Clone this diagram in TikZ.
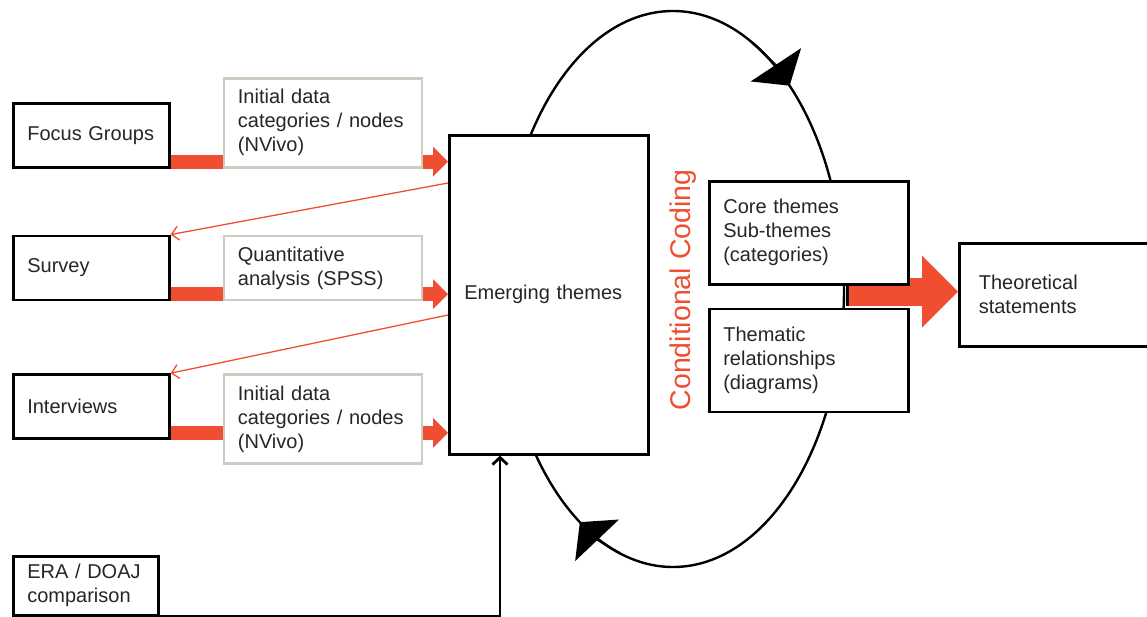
\documentclass[tikz,border=0pt]{standalone}
\usepackage{fontspec}
\setmainfont{Liberation Sans}
\usetikzlibrary{positioning,arrows.meta}
\pgfdeclarelayer{background}
\pgfsetlayers{background,main}
\definecolor{flowred}{RGB}{240,78,48}
\definecolor{boxgray}{RGB}{204,204,194}

\begin{document}
\begin{tikzpicture}[x=1pt,y=-1pt,
    every node/.style={font=\fontsize{20}{24}\selectfont,text=black!85,inner xsep=14pt,inner ysep=0pt,align=left},
    source/.style={draw,line width=2.6pt,fill=white,minimum width=156pt,minimum height=64pt,text width=128pt},
    tool/.style={draw=boxgray,line width=2.6pt,fill=white,minimum width=198pt,text width=170pt},
    theme/.style={draw,line width=2.6pt,fill=white,minimum width=199pt,minimum height=103pt,text width=171pt},
    bar/.style={flowred,line width=14pt},
    bararrow/.style={bar,-{Triangle[length=15pt,width=29pt]}},
    feedback/.style={flowred,line width=1.3pt,-{Straight Barb[length=7pt,width=14pt]}},
    bigarrow/.style={flowred,line width=28pt,-{Triangle[length=36pt,width=70pt]}},
    cycle/.style={line width=2.4pt},
    cyclehead/.style={line width=2.4pt,-{Triangle[length=25pt,width=60pt]}}]
    \useasboundingbox (0,0) rectangle (1147,616);

    % data sources
    \node[source,anchor=north west] (FG) at (12,102) {Focus Groups};
    \node[source,below=66pt of FG] (SV) {Survey};
    \node[source,below=72pt of SV] (IV) {Interviews};
    \node[source,anchor=north west,minimum width=145pt,text width=117pt,minimum height=59pt] (ERA) at (12,555) {ERA / DOAJ\\comparison};

    % analysis tools
    \node[tool,anchor=south west,minimum height=89pt] (ID1) at ([xshift=52pt]FG.south east) {Initial data\\categories / nodes\\(NVivo)};
    \node[tool,anchor=south west,minimum height=64pt] (QA) at ([xshift=52pt]SV.south east) {Quantitative\\analysis (SPSS)};
    \node[tool,anchor=north west,minimum height=89pt] (ID2) at ([xshift=52pt]IV.north east) {Initial data\\categories / nodes\\(NVivo)};

    % themes
    \node[theme,anchor=north west,minimum height=319pt,inner xsep=15pt,text width=169pt] (ET) at (448,134) {Emerging themes};
    \node[theme,anchor=north west] (CT) at (708,180) {Core themes\\Sub-themes\\(categories)};
    \node[theme,below=22pt of CT] (TR) {Thematic\\relationships\\(diagrams)};
    \node[theme,anchor=north west,minimum width=210pt] (TS) at (958,242) {Theoretical\\statements};
    \node[rotate=90,anchor=base,inner sep=0pt,text=flowred,font=\fontsize{28.5}{34}\selectfont] (CC) at (690,290) {Conditional Coding};

    \foreach \s/\t in {FG/ID1,SV/QA,IV/ID2} {
        \coordinate (b\s) at ([yshift=7pt]\s.south east);
        \draw[bar] (b\s) -- (\t.west |- b\s);
        \draw[bararrow] (\t.east |- b\s) -- (ET.west |- b\s);
    }
    \draw[feedback] ([yshift=-49pt]ET.north west) -- (SV.north east);
    \draw[feedback] ([yshift=-181pt]ET.north west) -- (IV.north east);
    \draw[line width=2.8pt,-{Straight Barb[length=7pt,width=15pt]}] (ERA.south east) -| ([xshift=52pt]ET.south west);

    \begin{pgfonlayer}{background}
        % coding cycle
        \draw[cycle] (673,289) ellipse [x radius=171, y radius=278];
        \draw[cyclehead] (673,289) ++(-62:171 and 278) arc [start angle=-62, end angle=-47, x radius=171, y radius=278];
        \draw[cyclehead] (673,289) ++(108:171 and 278) arc [start angle=108, end angle=123, x radius=171, y radius=278];
        \draw[bigarrow] ([xshift=-62pt,yshift=-6pt]CT.south east) -- ([yshift=-6pt]CT.south east -| TS.west);
        \draw[line width=2.6pt] ([xshift=-62pt,yshift=8pt]CT.south east) -- ([xshift=-62pt,yshift=-20pt]CT.south east);
    \end{pgfonlayer}
\end{tikzpicture}
\end{document}
